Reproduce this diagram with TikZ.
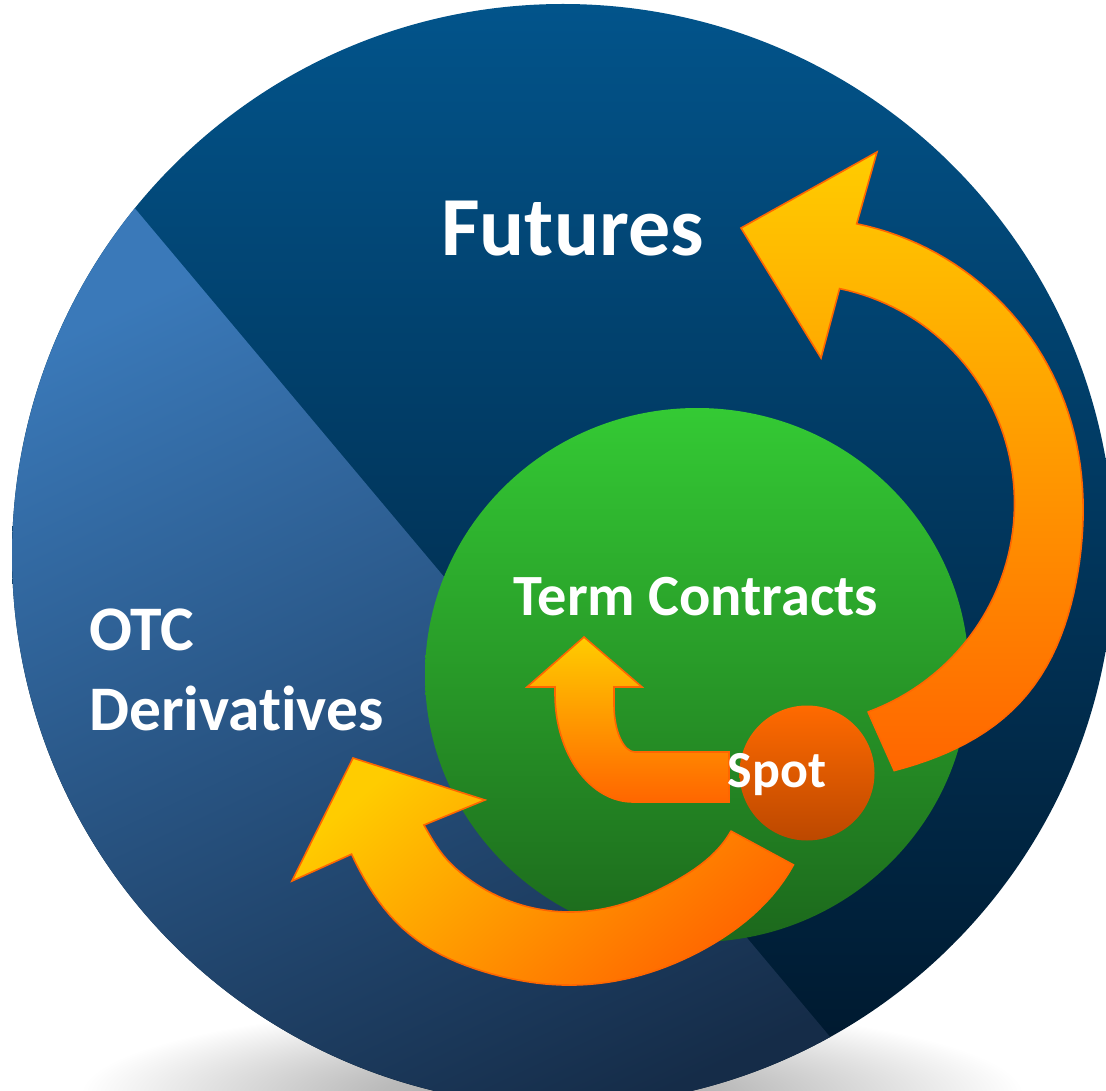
\documentclass[tikz,border=0pt]{standalone}
\usepackage{fontspec}
\setmainfont{Carlito}[Ligatures={NoCommon}]
\usetikzlibrary{shapes.geometric}
\definecolor{BlueTop}{HTML}{02548B}
\definecolor{BlueMid}{HTML}{003F6E}
\definecolor{BlueBot}{HTML}{00162A}
\definecolor{LightTop}{HTML}{3A79B9}
\definecolor{LightMid}{HTML}{2A5A92}
\definecolor{LightBot}{HTML}{152C48}
\definecolor{GreenTop}{HTML}{34CA34}
\definecolor{GreenBot}{HTML}{1C681C}
\definecolor{SpotTop}{HTML}{FF6A00}
\definecolor{SpotBot}{HTML}{BC4800}
\definecolor{ArrYellow}{HTML}{FFCC00}
\definecolor{ArrMid}{HTML}{FFA200}
\definecolor{ArrOrange}{HTML}{FF6600}
\definecolor{ArrLine}{HTML}{FF6600}
\pgfdeclareradialshading{shadowfade}{\pgfpointorigin}{color(0bp)=(black!36); color(9bp)=(black!27); color(18bp)=(black!12); color(25bp)=(white); color(50bp)=(white)}
\begin{document}
\begin{tikzpicture}[x=1pt,y=-1pt,
  declare function={
    roA(\t)=282+17*exp(0-((\t-42)/25)*((\t-42)/25));
    riA(\t)=213.5+0.0008*(\t+35)*(\t+35);
    roB(\t)=245+11*exp(0-((\t-30)/25)*((\t-30)/25))+7*exp(0-((\t-130)/18)*((\t-130)/18));
    riB(\t)=172+13*exp(0-((\t-29.5)/22)*((\t-29.5)/22))-3*exp(0-((\t-150)/10)*((\t-150)/10));
  },
  arrowshape/.style={draw=ArrLine, line width=1.6pt, line join=miter},
  lbl/.style={text=white, inner sep=0pt}]
\useasboundingbox (0,0) rectangle (1106,1091);
\clip (0,0) rectangle (1106,1091);
\fill[white] (0,0) rectangle (1106,1091);
% shadow under the disc
\shade[shading=shadowfade] (552,1095) ellipse [x radius=472, y radius=92];
% big disc
\coordinate (C) at (563,555);
\shade[top color=BlueTop, middle color=BlueMid, bottom color=BlueBot] (C) circle [radius=551];
% lighter OTC sector
\shade[top color=LightTop, middle color=LightMid, bottom color=LightBot, shading angle=25]
  (C) ++(61:551) arc[start angle=61, end angle=219, radius=551] -- cycle;
% green term-contract disc
\node[ellipse, minimum width=544pt, minimum height=534pt, inner sep=0pt,
      top color=GreenTop, bottom color=GreenBot] (term) at (697,675) {};
% spot disc
\node[circle, minimum size=135pt, inner sep=0pt,
      top color=SpotTop, bottom color=SpotBot] (spot) at (807,773) {};
% arrow 2 (lower, towards OTC)
\begin{scope}[shift={(570,740)}]
\shade[arrowshape, top color=ArrYellow, middle color=ArrMid, bottom color=ArrOrange, shading angle=40]
  ({riB(29.5)*cos(29.5)},{riB(29.5)*sin(29.5)})
  -- plot[domain=29.2:152.4, samples=60, variable=\t] ({roB(\t)*cos(\t)},{roB(\t)*sin(\t)})
  -- (-278,141) -- (-217,18) -- (-85,60)
  -- plot[domain=149.8:29.5, samples=60, variable=\t] ({riB(\t)*cos(\t)},{riB(\t)*sin(\t)})
  -- cycle;
\end{scope}
% arrow 1 (right, towards Futures)
\begin{scope}[shift={(800,500)}]
\shade[arrowshape, top color=ArrYellow, middle color=ArrMid, bottom color=ArrOrange]
  ({riA(72.2)*cos(72.2)},{riA(72.2)*sin(72.2)})
  -- plot[domain=70.8:-78.4, samples=70, variable=\t] ({roA(\t)*cos(\t)},{roA(\t)*sin(\t)})
  -- (77,-348) -- (-59,-272) -- (21,-142)
  -- plot[domain=-79.4:72.2, samples=70, variable=\t] ({riA(\t)*cos(\t)},{riA(\t)*sin(\t)})
  -- cycle;
\end{scope}
% arrow 3 (spot to term contracts)
\shade[arrowshape, top color=ArrYellow, middle color=ArrMid, bottom color=ArrOrange]
  (584,637) -- (642,687) -- (614,687) -- (614,705)
  arc[start angle=180, end angle=90, x radius=21, y radius=47]
  -- (729,752) -- (729,802) -- (633,802)
  arc[start angle=90, end angle=180, x radius=78, y radius=108]
  -- (555,687) -- (527,687) -- cycle;
% labels
\node[lbl, font=\bfseries\fontsize{84}{84}\selectfont, anchor=base] (futures) at (572.5,256) {Futures};
\node[lbl, font=\bfseries\fontsize{58.4}{58.4}\selectfont, anchor=base] (termlbl) at (696,615.7) {Term Contracts};
\node[lbl, font=\bfseries\fontsize{63.5}{63.5}\selectfont, anchor=base west] (otc) at (89,650) {OTC};
\node[lbl, font=\bfseries\fontsize{63.5}{63.5}\selectfont, anchor=base west] (deriv) at (89,730) {Derivatives};
\node[lbl, font=\bfseries\fontsize{52}{52}\selectfont, anchor=base] (spotlbl) at (777,787.3) {Spot};
\end{tikzpicture}
\end{document}
